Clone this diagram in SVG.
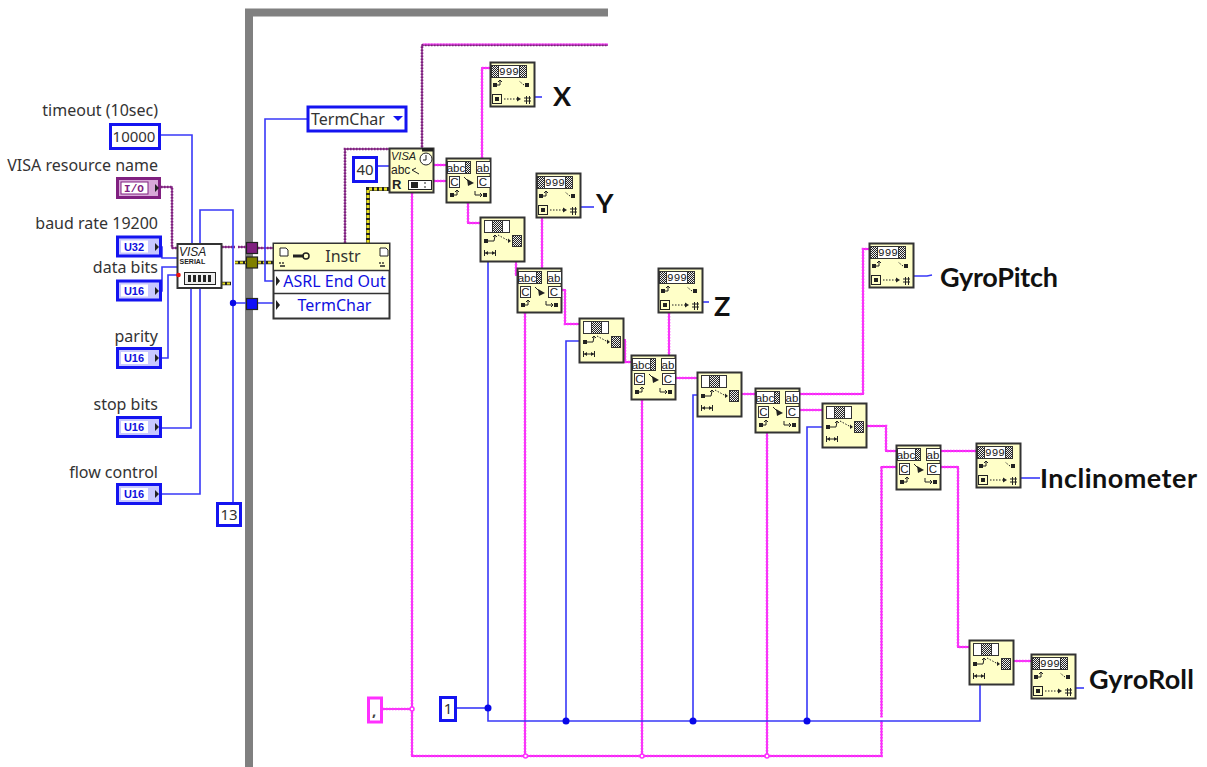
<svg xmlns="http://www.w3.org/2000/svg" width="1207" height="767" viewBox="0 0 1207 767">
<style>
text{font-family:"Noto Sans","Liberation Sans",sans-serif;fill:#333}
.l{font-size:16px;text-anchor:end}
.big{font-family:Lato,"Liberation Sans",sans-serif;font-weight:700;font-size:27px;fill:#111}
.n{fill:#ffffc8;stroke:#333;stroke-width:2}
.wh{fill:#fff;stroke:#333;stroke-width:1}
.h{fill:url(#hatch);stroke:#333;stroke-width:1}
.k{fill:#222;stroke:none}
.ln{fill:none;stroke:#222;stroke-width:1}
.dt{fill:none;stroke:#222;stroke-width:1;stroke-dasharray:1.5 1.5}
.t{font-family:"Liberation Sans",sans-serif;font-size:11.5px;fill:#222;text-anchor:middle}
.c9{font-family:"Liberation Mono",monospace;font-size:11px;fill:#222;text-anchor:middle}
.c{font-size:15px;text-anchor:middle}
.u{font-family:"Liberation Sans",sans-serif;font-weight:700;font-size:11px;fill:#1010e0;text-anchor:middle}
.bc{fill:#fff;stroke:#1414f0;stroke-width:3}
.uc{fill:#c8c8ff;stroke:#1414f0;stroke-width:3}
.conn{fill:none}
.s{stroke:#f028f0;stroke-width:1.800}
.sd{stroke:#ff30ff;stroke-width:2.600;stroke-dasharray:1.500 1.500;fill:none}
.p{stroke:#802080;stroke-width:1.500}
.pd{stroke:#802080;stroke-width:2.600;stroke-dasharray:1.500 1.500;fill:none}
.y{stroke:#222;stroke-width:4}
.yd{stroke:#e8e020;stroke-width:3;stroke-dasharray:3 2;fill:none}
.b{stroke:#3838f8;stroke-width:1.600}
.in{fill:#1010e0;font-size:16px;text-anchor:middle}
</style>
<defs>
<pattern id="hatch" width="2" height="2" patternUnits="userSpaceOnUse"><rect width="2" height="2" fill="#eee"/><rect width="1" height="1" fill="#222"/><rect x="1" y="1" width="1" height="1" fill="#222"/></pattern>
<g id="scan">
<rect class="n" x=".5" y=".5" width="44" height="44"/>
<rect class="wh" x="1.500" y="3.500" width="35" height="12"/>
<rect class="h" x="1.500" y="3.500" width="7" height="12"/><rect class="h" x="29.500" y="3.500" width="7" height="12"/>
<rect class="k" x="3" y="21" width="4" height="4"/><path class="ln" d="M7 23H10V19M8 20L10 18L12 20"/>
<rect class="k" x="35" y="21" width="4" height="4"/><path class="dt" d="M34 23L29 19"/>
<rect class="ln" x="2.500" y="32.500" width="9" height="9"/><rect class="k" x="5" y="35" width="4" height="4"/>
<path class="dt" d="M14 37H28"/><path class="k" d="M27 34.500L31 37L27 39.500Z"/>
<path class="ln" d="M34 36H41M34 39H41M36.500 34V42M39.500 34V42"/>
</g>
<g id="match">
<rect class="n" x=".5" y=".5" width="44" height="44"/>
<rect fill="#fff" stroke="#333" x="1.500" y="3.500" width="23" height="12"/><rect class="h" x="19.500" y="3.500" width="5" height="12"/>
<rect fill="#fff" stroke="#333" x="30.500" y="3.500" width="14" height="12"/>
<rect fill="#fff" stroke="#333" x="3.500" y="18.500" width="10" height="11"/>
<rect fill="#fff" stroke="#333" x="31.500" y="18.500" width="13" height="11"/>
<path class="ln" d="M18 19L23 24"/><path class="k" d="M21 21L28 25L22 28Z"/>
<rect class="k" x="4" y="35" width="4" height="4"/><path class="ln" d="M8 37H11V33M9 34L11 32L13 34"/>
<rect class="k" x="37" y="35" width="4" height="4"/><path class="ln" d="M29 33V37H36M34 35L36 37L34 39"/>
</g>
<g id="span">
<rect class="n" x=".5" y=".5" width="44" height="44"/>
<rect fill="#fff" stroke="#333" x="4.500" y="3.500" width="25" height="12"/><rect class="h" x="12.500" y="3.500" width="10" height="12"/>
<rect class="k" x="4" y="22" width="4" height="4"/><path class="ln" d="M8 24H14L15 19M13 20L15 18L17 20"/>
<path class="dt" d="M18 18L29 24"/><path class="k" d="M28 21.500L31 24L28 26Z"/>
<rect class="h" x="32.500" y="18.500" width="9" height="11"/>
<path class="ln" d="M4.500 33V39M15.500 33V39M5 36H15"/><path class="k" d="M5 36L8 34V38ZM15 36L12 34V38Z"/>
</g>
</defs>

<path d="M249 767V12.500H608" fill="none" stroke="#808080" stroke-width="8"/>

<g id="connectors" class="conn">
<g class="p"><g id="purple">
<path d="M161 187H172V248H177"/><path d="M222 247H235M238 247H246M258 248H273"/>
<path d="M345 243V149H389"/><path d="M422 150V45H608"/>
</g></g>
<use href="#purple" class="pd"/>
<path d="M423 44H608" stroke="#ff30ff" stroke-width="1"/>
<g class="y"><path d="M368 243V189H389"/></g>
<path d="M368 243V189H389" class="yd"/>
<path d="M222 283.500H231M235 262.500H246M258 262.500H273" stroke="#222" stroke-width="3.500"/>
<path d="M222 283.500H231M235 262.500H246M258 262.500H273" stroke="#e8e020" stroke-width="2" stroke-dasharray="3 2"/>
<g class="s"><g id="string">
<path d="M412 193V756H881.500V467H896"/>
<path d="M434 165H446M434 181H446"/>
<path d="M482 158V68H490"/>
<path d="M468 203V223H480"/>
<path d="M516 261V276"/>
<path d="M542 217V268"/>
<path d="M562 290H565V324H579"/>
<path d="M623 340H625V362H631"/>
<path d="M669 313V355"/>
<path d="M676 378H697"/>
<path d="M741 394H755"/>
<path d="M800 394H863V249H869"/>
<path d="M800 410H822"/>
<path d="M867 426H886V451H896"/>
<path d="M941 451H976"/>
<path d="M941 467H958V647H969"/>
<path d="M1013 661H1031"/>
<path d="M525 313V756"/><path d="M642 400V756"/><path d="M767 432V756"/>
<path d="M383 709H412"/>
</g></g>
<use href="#string" class="sd"/>
<g fill="#fff" stroke="#ff30ff" stroke-width="1.500"><circle cx="412" cy="709" r="2"/><circle cx="525.500" cy="756" r="2"/><circle cx="642" cy="756" r="2"/><circle cx="767" cy="756" r="2"/></g>
<path d="M878 719H885" stroke="#fff" stroke-width="3"/>
<g class="b">
<path d="M161 135H192V244"/><path d="M162 428H191V288"/><path d="M162 494H200V288"/>
<path d="M161 247H162V258H177"/><path d="M161 291H162V267H177"/><path d="M162 358H168V275H177"/>
<path d="M200 244V210H233V502"/><path d="M233 303H246M258 303H273"/>
<path d="M307 119H265V281H273"/><path d="M378 166H389"/>
<path d="M457 708H488"/><path d="M488 261V721H980V684"/>
<path d="M566 721V341H579"/><path d="M693 721V395H697"/><path d="M807 721V427H822"/>
<path d="M535 97H542"/><path d="M581 207H594"/><path d="M703 302H709"/><path d="M914 276H927L932 275"/><path d="M1021 478H1040"/><path d="M1076 688H1084"/>
</g>
<g fill="#0808e8"><circle cx="233" cy="303" r="3.200"/><circle cx="488" cy="708" r="3.500"/><circle cx="566" cy="721" r="3.500"/><circle cx="693" cy="721" r="3.500"/><circle cx="807" cy="721" r="3.500"/></g>
</g>

<g id="tunnels" stroke="#222" stroke-width="1.200">
<rect id="tunnel-visa" x="246.500" y="242.500" width="11" height="11" fill="#802080"/>
<rect id="tunnel-err" x="246.500" y="257" width="11" height="11" fill="#808000"/>
<rect id="tunnel-num" x="246.500" y="298.500" width="11" height="11" fill="#1010f8"/>
</g>

<text class="l" x="158" y="116">timeout (10sec)</text>
<text class="l" x="158" y="171">VISA resource name</text>
<text class="l" x="158" y="229">baud rate 19200</text>
<text class="l" x="158" y="273">data bits</text>
<text class="l" x="158" y="342">parity</text>
<text class="l" x="158" y="410">stop bits</text>
<text class="l" x="158" y="478">flow control</text>

<g id="const-timeout"><rect class="bc" x="110.500" y="124.500" width="49" height="24"/><text class="c" x="134" y="142">10000</text></g>
<g id="const-visa"><rect x="117.500" y="178.500" width="42" height="19" fill="#d8a8d8" stroke="#802080" stroke-width="3"/><rect x="121" y="182" width="27" height="12" fill="#fff" stroke="#802080" stroke-width="1"/><text x="134" y="191.500" style="font-family:'Liberation Mono',monospace;font-size:11px;font-weight:700;fill:#802080;text-anchor:middle">I/O</text><path class="k" d="M155 184L159 188L155 192Z"/></g>
<g id="const-baud"><rect class="uc" x="117.500" y="237" width="43" height="19"/><rect x="121" y="240.500" width="27" height="12" fill="#fff"/><text class="u" x="134" y="250.500">U32</text><path class="k" d="M155 243L159 247L155 251Z"/></g>
<g id="const-databits"><rect class="uc" x="117.500" y="281" width="43" height="19"/><rect x="121" y="284.500" width="27" height="12" fill="#fff"/><text class="u" x="134" y="294.500">U16</text><path class="k" d="M155 287L159 291L155 295Z"/></g>
<g id="const-parity"><rect class="uc" x="117.500" y="348.500" width="43" height="19"/><rect x="121" y="352" width="27" height="12" fill="#fff"/><text class="u" x="134" y="362">U16</text><path class="k" d="M155 354L159 358L155 362Z"/></g>
<g id="const-stopbits"><rect class="uc" x="117.500" y="417.500" width="43" height="19"/><rect x="121" y="421" width="27" height="12" fill="#fff"/><text class="u" x="134" y="431">U16</text><path class="k" d="M155 423L159 427L155 431Z"/></g>
<g id="const-flow"><rect class="uc" x="117.500" y="484.500" width="43" height="19"/><rect x="121" y="488" width="27" height="12" fill="#fff"/><text class="u" x="134" y="498">U16</text><path class="k" d="M155 490L159 494L155 498Z"/></g>
<g id="const-13"><rect class="bc" x="217.500" y="503.500" width="23" height="22"/><text class="c" x="229" y="520">13</text></g>

<g id="visa-serial">
<rect x="177.500" y="244" width="44" height="44" fill="#fff" stroke="#333" stroke-width="2"/>
<text x="179" y="256" style="font-family:'Liberation Sans',sans-serif;font-style:italic;font-size:12px;fill:#222">VISA</text>
<text x="179.500" y="264" style="font-family:'Liberation Sans',sans-serif;font-weight:700;font-size:7px;fill:#222">SERIAL</text>
<rect x="184.500" y="272.500" width="31" height="12" fill="#eee" stroke="#222"/>
<path d="M188 275h3v7h-3zM193 275h3v7h-3zM198 275h3v7h-3zM203 275h3v7h-3zM208 275h3v7h-3z" fill="#222"/>
<circle cx="178.500" cy="275" r="2.300" fill="#f01010"/>
</g>

<g id="property-node">
<rect x="273.500" y="243.500" width="116" height="75" fill="#fff" stroke="#333" stroke-width="2"/>
<rect x="274" y="244" width="115" height="26" fill="#ffffc8"/>
<path d="M274 270.500H389M274 293.500H389" stroke="#333" stroke-width="1.500"/>
<path d="M280 248h6l2 2v6h-8zM380 248h6l2 2v6h-8z" fill="#fff" stroke="#222"/>
<path d="M293 256H304" stroke="#222" stroke-width="3"/><circle cx="306" cy="256" r="3" fill="none" stroke="#222" stroke-width="1.500"/>
<path d="M280 262v2M283 262v2M280 266h5M380 262v2M383 262v2M380 266h5" stroke="#222" stroke-width="1.300"/>
<text x="343" y="262" style="font-size:16px;text-anchor:middle">Instr</text>
<path class="k" d="M276 276L280 281L276 286ZM276 300L280 305L276 310Z"/>
<text class="in" x="334.500" y="287">ASRL End Out</text>
<text class="in" x="334.500" y="311">TermChar</text>
</g>

<g id="enum-termchar"><rect class="bc" x="308" y="107" width="98" height="24"/><text x="311" y="125" style="font-size:16px">TermChar</text><path d="M393 116H403L398 121Z" fill="#1414f0"/></g>
<g id="const-40"><rect class="bc" x="353.500" y="157.500" width="23" height="24"/><text class="c" x="365" y="175">40</text></g>
<g id="visa-read">
<rect class="n" x="389.500" y="148.500" width="44" height="44"/>
<text x="391" y="160" style="font-family:'Liberation Sans',sans-serif;font-style:italic;font-size:11px;fill:#222">VISA</text>
<text x="391" y="174" style="font-family:'Liberation Sans',sans-serif;font-size:12px;fill:#222">abc</text>
<text x="392" y="189" style="font-family:'Liberation Sans',sans-serif;font-weight:700;font-size:13px;fill:#222">R</text>
<circle cx="426" cy="159" r="6" fill="#fff" stroke="#222"/><path d="M426 155V160H423" fill="none" stroke="#222"/><rect x="422" y="148" width="11" height="3.500" fill="#222"/>
<path d="M412 170L419 174M412 170L416 168" class="ln"/>
<rect x="408.500" y="180.500" width="23" height="9" fill="#fff" stroke="#222"/><rect x="411" y="182" width="7" height="6" fill="#222"/><path d="M425 182v2M425 186v2" stroke="#222"/>
</g>

<g id="scan-x" transform="translate(490 62)"><use href="#scan"/><text class="c9" x="19" y="13">999</text></g>
<g id="scan-y" transform="translate(536 173)"><use href="#scan"/><text class="c9" x="19" y="13">999</text></g>
<g id="scan-z" transform="translate(658 268)"><use href="#scan"/><text class="c9" x="19" y="13">999</text></g>
<g id="scan-pitch" transform="translate(869 243)"><use href="#scan"/><text class="c9" x="19" y="13">999</text></g>
<g id="scan-incl" transform="translate(976 443)"><use href="#scan"/><text class="c9" x="19" y="13">999</text></g>
<g id="scan-roll" transform="translate(1031 654)"><use href="#scan"/><text class="c9" x="19" y="13">999</text></g>

<g id="match-1" transform="translate(446 158)"><use href="#match"/><text class="t" x="10" y="13.500">abc</text><text class="t" x="37" y="13.500">ab</text><text class="t" x="8.500" y="28">C</text><text class="t" x="37" y="28">C</text></g>
<g id="match-2" transform="translate(517 268)"><use href="#match"/><text class="t" x="10" y="13.500">abc</text><text class="t" x="37" y="13.500">ab</text><text class="t" x="8.500" y="28">C</text><text class="t" x="37" y="28">C</text></g>
<g id="match-3" transform="translate(631 355)"><use href="#match"/><text class="t" x="10" y="13.500">abc</text><text class="t" x="37" y="13.500">ab</text><text class="t" x="8.500" y="28">C</text><text class="t" x="37" y="28">C</text></g>
<g id="match-4" transform="translate(755 388)"><use href="#match"/><text class="t" x="10" y="13.500">abc</text><text class="t" x="37" y="13.500">ab</text><text class="t" x="8.500" y="28">C</text><text class="t" x="37" y="28">C</text></g>
<g id="match-5" transform="translate(896 445)"><use href="#match"/><text class="t" x="10" y="13.500">abc</text><text class="t" x="37" y="13.500">ab</text><text class="t" x="8.500" y="28">C</text><text class="t" x="37" y="28">C</text></g>

<g id="span-1" transform="translate(480 217)"><use href="#span"/></g>
<g id="span-2" transform="translate(579 318)"><use href="#span"/></g>
<g id="span-3" transform="translate(697 372)"><use href="#span"/></g>
<g id="span-4" transform="translate(822 403)"><use href="#span"/></g>
<g id="span-5" transform="translate(969 640)"><use href="#span"/></g>

<g id="const-comma"><rect x="368.500" y="698" width="13" height="24" fill="#fff" stroke="#ff30ff" stroke-width="3"/><text x="372" y="716" style="font-size:15px;font-weight:700;fill:#444">,</text></g>
<g id="const-1"><rect class="bc" x="440.500" y="697.500" width="15" height="23"/><text class="c" x="448" y="714">1</text></g>

<text class="big" x="553" y="106">X</text>
<text class="big" x="596" y="213">Y</text>
<text class="big" x="714" y="316">Z</text>
<text class="big" x="940" y="287" textLength="118">GyroPitch</text>
<text class="big" x="1040" y="488" textLength="157">Inclinometer</text>
<text class="big" x="1089" y="689" textLength="105">GyroRoll</text>
</svg>
